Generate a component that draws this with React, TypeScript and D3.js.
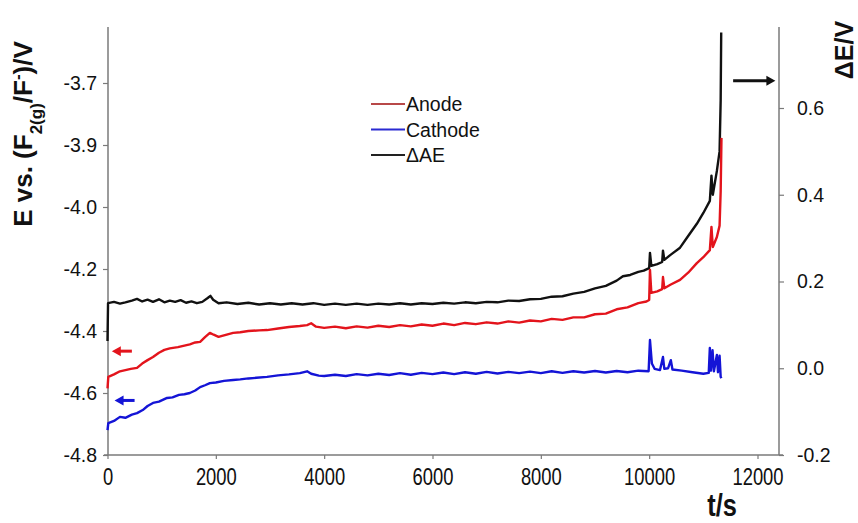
import { useEffect, useRef } from "react";
import * as d3 from "d3";

// left axis labels as printed (evenly spaced on the original figure)
const leftLabels = ["-4.8", "-4.6", "-4.4", "-4.2", "-4.0", "-3.9", "-3.7"];
const rightTicks = [-0.2, 0, 0.2, 0.4, 0.6];
const xTicks = [0, 2000, 4000, 6000, 8000, 10000, 12000];

const seriesNames = ["Anode", "Cathode", "\u0394AE"];
const seriesColors = ["#e3141c", "#1414d6", "#111111"];
const legendColors = ["#b84848", "#2a2ad2", "#222222"];

// [t (s), E (V)] – anode, left axis
const anode: [number, number][] = [
  [0, -4.585], [15, -4.548], [120, -4.54], [230, -4.53], [330, -4.526], [430, -4.522],
  [545, -4.519], [640, -4.505], [740, -4.494], [840, -4.484], [950, -4.47], [1050, -4.461],
  [1150, -4.456], [1300, -4.452], [1420, -4.447], [1520, -4.443], [1620, -4.437], [1710, -4.435],
  [1800, -4.42], [1890, -4.406], [1960, -4.412], [2050, -4.419], [2150, -4.414], [2320, -4.406],
  [2450, -4.404], [2600, -4.4], [2800, -4.398], [2945, -4.397], [3150, -4.392], [3350, -4.387],
  [3550, -4.384], [3685, -4.381], [3760, -4.375], [3850, -4.386], [4000, -4.39], [4200, -4.386],
  [4400, -4.391], [4600, -4.385], [4800, -4.389], [5000, -4.383], [5200, -4.387], [5400, -4.381],
  [5600, -4.385], [5800, -4.379], [6000, -4.383], [6200, -4.376], [6400, -4.381], [6600, -4.374],
  [6800, -4.378], [7000, -4.372], [7200, -4.376], [7400, -4.369], [7600, -4.373], [7800, -4.366],
  [8000, -4.369], [8200, -4.361], [8400, -4.364], [8600, -4.356], [8800, -4.356], [9000, -4.346],
  [9200, -4.344], [9400, -4.33], [9600, -4.324], [9800, -4.31], [9950, -4.305], [10000, -4.3],
  [10015, -4.203], [10040, -4.277], [10150, -4.272], [10240, -4.265], [10255, -4.226], [10280, -4.262],
  [10400, -4.25], [10570, -4.235], [10720, -4.212], [10880, -4.181], [11000, -4.162], [11120, -4.139],
  [11150, -4.064], [11175, -4.129], [11250, -4.097], [11300, -4.06], [11320, -3.95], [11335, -3.777],
];

// cathode, left axis
const cathode: [number, number][] = [
  [0, -4.72], [15, -4.697], [120, -4.69], [230, -4.677], [330, -4.68], [450, -4.67],
  [545, -4.665], [650, -4.655], [740, -4.642], [840, -4.632], [950, -4.628], [1100, -4.616],
  [1200, -4.614], [1320, -4.606], [1420, -4.604], [1520, -4.6], [1620, -4.592], [1710, -4.581],
  [1800, -4.575], [1890, -4.568], [2000, -4.566], [2150, -4.561], [2320, -4.558], [2450, -4.556],
  [2600, -4.553], [2750, -4.551], [2945, -4.548], [3150, -4.543], [3350, -4.54], [3550, -4.536],
  [3685, -4.53], [3760, -4.538], [3900, -4.544], [4000, -4.545], [4200, -4.541], [4400, -4.545],
  [4600, -4.539], [4800, -4.543], [5000, -4.538], [5200, -4.542], [5400, -4.536], [5600, -4.541],
  [5800, -4.535], [6000, -4.539], [6200, -4.534], [6400, -4.539], [6600, -4.533], [6800, -4.538],
  [7000, -4.532], [7200, -4.537], [7400, -4.532], [7600, -4.536], [7800, -4.531], [8000, -4.536],
  [8200, -4.53], [8400, -4.535], [8600, -4.53], [8800, -4.534], [9000, -4.529], [9200, -4.534],
  [9400, -4.529], [9600, -4.533], [9800, -4.528], [9990, -4.53], [10015, -4.429], [10050, -4.505],
  [10100, -4.522], [10200, -4.526], [10255, -4.484], [10280, -4.522], [10350, -4.52], [10400, -4.494],
  [10430, -4.524], [10600, -4.528], [10800, -4.533], [11000, -4.538], [11100, -4.535], [11120, -4.455],
  [11140, -4.528], [11170, -4.462], [11195, -4.53], [11250, -4.477], [11270, -4.533], [11300, -4.48],
  [11320, -4.548], [11335, -4.552],
];

// cell voltage difference, right axis
const deltaE: [number, number][] = [
  [0, 0.063], [10, 0.15], [120, 0.153], [230, 0.149], [330, 0.152], [450, 0.156], [545, 0.16],
  [640, 0.154], [740, 0.158], [840, 0.153], [950, 0.159], [1050, 0.152], [1150, 0.156], [1250, 0.153],
  [1350, 0.157], [1450, 0.151], [1550, 0.154], [1650, 0.15], [1750, 0.153], [1850, 0.162], [1900, 0.167],
  [1950, 0.158], [2050, 0.15], [2200, 0.152], [2400, 0.148], [2600, 0.151], [2800, 0.147], [3000, 0.15],
  [3200, 0.147], [3400, 0.15], [3600, 0.147], [3800, 0.15], [4000, 0.146], [4200, 0.149], [4400, 0.146],
  [4600, 0.149], [4800, 0.146], [5000, 0.149], [5200, 0.147], [5400, 0.15], [5600, 0.147], [5800, 0.15],
  [6000, 0.148], [6200, 0.151], [6400, 0.149], [6600, 0.152], [6800, 0.15], [7000, 0.153], [7200, 0.152],
  [7400, 0.156], [7600, 0.155], [7800, 0.159], [8000, 0.16], [8200, 0.165], [8400, 0.166], [8600, 0.172],
  [8800, 0.176], [9000, 0.184], [9200, 0.19], [9400, 0.202], [9515, 0.212], [9650, 0.215], [9800, 0.222],
  [9900, 0.225], [10000, 0.231], [10015, 0.266], [10040, 0.236], [10150, 0.24], [10240, 0.245],
  [10255, 0.271], [10280, 0.25], [10400, 0.262], [10570, 0.278], [10720, 0.305], [10880, 0.333],
  [11000, 0.358], [11120, 0.386], [11150, 0.444], [11175, 0.4], [11250, 0.455], [11300, 0.5],
  [11320, 0.617], [11330, 0.774],
];

const FONT = "'Liberation Sans', Arial, sans-serif";

export default function App() {
  const ref = useRef<SVGSVGElement>(null);

  useEffect(() => {
    const svg = d3.select(ref.current);
    svg.selectAll("*").remove();

    const top = 27;
    const bottom = 455;
    const left = 108;
    const right = 779;

    const x = d3.scaleLinear().domain([0, 12000]).range([107.5, 757.5]);
    const yLeft = d3.scaleLinear().domain([-4.8, -3.6]).range([bottom, 83]);
    const yLabel = d3.scalePoint().domain(leftLabels).range([bottom, 83]);
    const yRight = d3.scaleLinear().domain([-0.2, 0.6]).range([bottom, 108]);

    const axisColor = "#7a7a7a";

    // frame lines
    svg.append("line").attr("x1", left).attr("x2", left).attr("y1", top).attr("y2", bottom)
      .attr("stroke", axisColor).attr("stroke-width", 1.5);
    svg.append("line").attr("x1", right).attr("x2", right).attr("y1", top).attr("y2", bottom)
      .attr("stroke", axisColor).attr("stroke-width", 1.5);
    svg.append("line").attr("x1", left - 4).attr("x2", right + 4).attr("y1", bottom).attr("y2", bottom)
      .attr("stroke", axisColor).attr("stroke-width", 1.5);

    const gl = svg.append("g").attr("transform", `translate(${left},0)`)
      .call(d3.axisLeft(yLabel).tickSize(5).tickPadding(6));
    const gr = svg.append("g").attr("transform", `translate(${right},0)`)
      .call(d3.axisRight(yRight).tickValues(rightTicks).tickSize(5).tickPadding(13)
        .tickFormat((d) => (d as number).toFixed(1)));
    const gx = svg.append("g").attr("transform", `translate(0,${bottom})`)
      .call(d3.axisBottom(x).tickValues(xTicks).tickSize(4).tickPadding(10)
        .tickFormat((d) => String(d)));

    for (const g of [gl, gr, gx]) {
      g.select(".domain").remove();
      g.selectAll("line").attr("stroke", axisColor).attr("stroke-width", 1.2);
      g.selectAll("text").attr("fill", "#111").style("font-family", FONT).style("font-size", "19.5px");
    }
    // x labels are set in a condensed face on the original
    gx.selectAll("text").style("font-size", "23px").attr("transform", "scale(0.8,1)");

    // curves
    const lineL = d3.line<[number, number]>().x((d) => x(d[0])).y((d) => yLeft(d[1]));
    const lineR = d3.line<[number, number]>().x((d) => x(d[0])).y((d) => yRight(d[1]));
    const paths: [string, string][] = [
      [lineR(deltaE) as string, seriesColors[2]],
      [lineL(anode) as string, seriesColors[0]],
      [lineL(cathode) as string, seriesColors[1]],
    ];
    paths.forEach(([d, c]) => {
      svg.append("path").attr("d", d).attr("fill", "none").attr("stroke", c)
        .attr("stroke-width", 2.4).attr("stroke-linejoin", "round");
    });

    // arrows showing which axis each curve belongs to
    const arrow = (x1: number, x2: number, y: number, color: string) => {
      const dir = Math.sign(x2 - x1);
      svg.append("line").attr("x1", x1).attr("x2", x2 - dir * 6).attr("y1", y).attr("y2", y)
        .attr("stroke", color).attr("stroke-width", 3);
      svg.append("path")
        .attr("d", `M${x2},${y} L${x2 - dir * 9},${y - 5} L${x2 - dir * 9},${y + 5} Z`)
        .attr("fill", color);
    };
    arrow(x(450), x(80), yLeft(-4.465), seriesColors[0]);
    arrow(x(500), x(130), yLeft(-4.624), seriesColors[1]);
    arrow(x(11550), x(12330), yRight(0.663), "#111");

    // legend
    const lg = svg.append("g").attr("transform", "translate(371,104)");
    seriesNames.forEach((name, i) => {
      const row = lg.append("g").attr("transform", `translate(0,${i * 25.5})`);
      row.append("line").attr("x1", 0).attr("x2", 34).attr("y1", 0).attr("y2", 0)
        .attr("stroke", legendColors[i]).attr("stroke-width", 2);
      row.append("text").attr("x", 35).attr("y", 7).text(name)
        .style("font-family", FONT).style("font-size", "19.5px").attr("fill", "#111");
    });

    // axis titles
    const lt = svg.append("text").attr("transform", "translate(32,134) rotate(-90)")
      .attr("text-anchor", "middle").style("font-family", FONT).style("font-size", "26px")
      .style("font-weight", "bold").attr("fill", "#111");
    lt.append("tspan").text("E vs. (F");
    lt.append("tspan").attr("baseline-shift", "sub").style("font-size", "17px").text("2(g)");
    lt.append("tspan").text("/F");
    lt.append("tspan").attr("baseline-shift", "super").style("font-size", "17px").text("-");
    lt.append("tspan").text(")/V");

    svg.append("text").attr("transform", "translate(853,50) rotate(-90)")
      .attr("text-anchor", "middle").style("font-family", FONT).style("font-size", "25px")
      .style("font-weight", "bold").attr("fill", "#111").text("\u0394E/V");

    svg.append("text").attr("transform", "translate(722,516) scale(0.82,1)")
      .attr("text-anchor", "middle")
      .style("font-family", FONT).style("font-size", "31px").style("font-weight", "bold")
      .attr("fill", "#111").text("t/s");
  }, []);

  return (
    <svg
      ref={ref}
      width={858}
      height={523}
      style={{ position: "absolute", left: 0, top: 0, background: "#fff" }}
    />
  );
}
